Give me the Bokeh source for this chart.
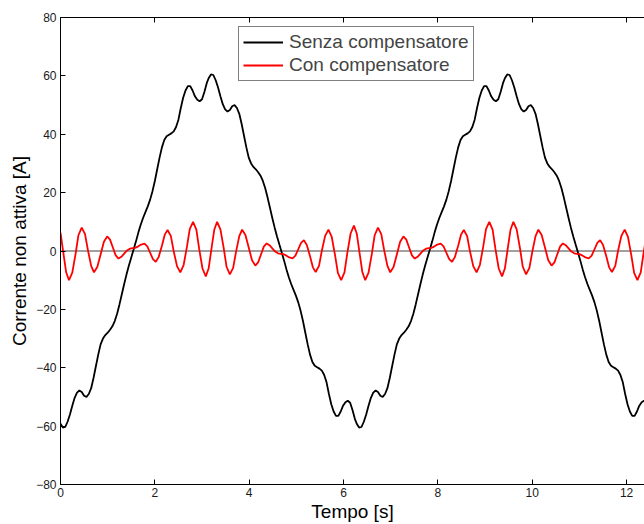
from bokeh.plotting import figure
from bokeh.models import Range1d, FixedTicker, LinearAxis, Span, CustomLabelingPolicy
from bokeh.embed import file_html
from bokeh.resources import INLINE

# ---- data ----
x_ticks = [0, 2, 4, 6, 8, 10, 12]
y_ticks = [-80, -60, -40, -20, 0, 20, 40, 60, 80]
series_names = ["Senza compensatore", "Con compensatore"]

# "Senza compensatore" (black)
black_t = [
    0.00, 0.05, 0.10, 0.15, 0.20, 0.25, 0.30, 0.35, 0.40, 0.45, 0.50, 0.55, 0.60, 0.65, 0.70, 0.75,
    0.80, 0.85, 0.90, 0.95, 1.00, 1.05, 1.10, 1.15, 1.20, 1.25, 1.30, 1.35, 1.40, 1.45, 1.50, 1.55,
    1.60, 1.65, 1.70, 1.75, 1.80, 1.85, 1.90, 1.95, 2.00, 2.05, 2.10, 2.15, 2.20, 2.25, 2.30, 2.35,
    2.40, 2.45, 2.50, 2.55, 2.60, 2.65, 2.70, 2.75, 2.80, 2.85, 2.90, 2.95, 3.00, 3.05, 3.10,
    3.14, 3.19, 3.24, 3.29, 3.34, 3.39, 3.44, 3.49, 3.54, 3.59, 3.64, 3.69, 3.74, 3.79, 3.84, 3.89,
    3.94, 3.99, 4.04, 4.09, 4.14, 4.19, 4.24, 4.29, 4.34, 4.39, 4.44, 4.49, 4.54, 4.59, 4.64, 4.69,
    4.74, 4.79, 4.84, 4.89, 4.94, 4.99, 5.04, 5.09, 5.14, 5.19, 5.24, 5.29, 5.34, 5.39, 5.44, 5.49,
    5.54, 5.59, 5.64, 5.69, 5.74, 5.79, 5.84, 5.89, 5.94, 5.99, 6.04, 6.09, 6.14, 6.19, 6.24,
    6.28, 6.33, 6.38, 6.43, 6.48, 6.53, 6.58, 6.63, 6.68, 6.73, 6.78, 6.83, 6.88, 6.93, 6.98, 7.03,
    7.08, 7.13, 7.18, 7.23, 7.28, 7.33, 7.38, 7.43, 7.48, 7.53, 7.58, 7.63, 7.68, 7.73, 7.78, 7.83,
    7.88, 7.93, 7.98, 8.03, 8.08, 8.13, 8.18, 8.23, 8.28, 8.33, 8.38, 8.43, 8.48, 8.53, 8.58, 8.63,
    8.68, 8.73, 8.78, 8.83, 8.88, 8.93, 8.98, 9.03, 9.08, 9.13, 9.18, 9.23, 9.28, 9.33, 9.38,
    9.42, 9.47, 9.52, 9.57, 9.62, 9.67, 9.72, 9.77, 9.82, 9.87, 9.92, 9.97, 10.02, 10.07, 10.12, 10.17,
    10.22, 10.27, 10.32, 10.37, 10.42, 10.47, 10.52, 10.57, 10.62, 10.67, 10.72, 10.77, 10.82, 10.87,
    10.92, 10.97, 11.02, 11.07, 11.12, 11.17, 11.22, 11.27, 11.32, 11.37, 11.42, 11.47, 11.52, 11.57,
    11.62, 11.67, 11.72, 11.77, 11.82, 11.87, 11.92, 11.97, 12.02, 12.07, 12.12, 12.17, 12.22, 12.27,
    12.32, 12.37, 12.42, 12.47, 12.52,
]
black_v = [
    -59.2, -60.5, -60.3, -58.5, -56.0, -53.0, -50.3, -48.5, -47.8, -48.3, -49.6, -50.0, -49.0, -47.0, -43.5, -39.5,
    -35.5, -32.0, -30.0, -28.8, -28.0, -27.0, -25.8, -24.0, -21.5, -18.3, -14.8, -11.3, -8.0, -5.0, -2.2, 0.5,
    3.3, 6.3, 9.0, 11.3, 13.3, 15.3, 17.6, 20.5, 24.0, 28.0, 32.0, 35.5, 38.0, 39.3, 39.8, 40.3,
    41.0, 42.5, 45.0, 49.0, 52.5, 55.0, 56.5, 56.5, 55.0, 53.0, 51.8, 51.3, 52.0, 54.5, 57.5,
    59.2, 60.5, 60.3, 58.5, 56.0, 53.0, 50.3, 48.5, 47.8, 48.3, 49.6, 50.0, 49.0, 47.0, 43.5, 39.5,
    35.5, 32.0, 30.0, 28.8, 28.0, 27.0, 25.8, 24.0, 21.5, 18.3, 14.8, 11.3, 8.0, 5.0, 2.2, -0.5,
    -3.3, -6.3, -9.0, -11.3, -13.3, -15.3, -17.6, -20.5, -24.0, -28.0, -32.0, -35.5, -38.0, -39.3, -39.8, -40.3,
    -41.0, -42.5, -45.0, -49.0, -52.5, -55.0, -56.5, -56.5, -55.0, -53.0, -51.8, -51.3, -52.0, -54.5, -57.5,
    -59.2, -60.5, -60.3, -58.5, -56.0, -53.0, -50.3, -48.5, -47.8, -48.3, -49.6, -50.0, -49.0, -47.0, -43.5, -39.5,
    -35.5, -32.0, -30.0, -28.8, -28.0, -27.0, -25.8, -24.0, -21.5, -18.3, -14.8, -11.3, -8.0, -5.0, -2.2, 0.5,
    3.3, 6.3, 9.0, 11.3, 13.3, 15.3, 17.6, 20.5, 24.0, 28.0, 32.0, 35.5, 38.0, 39.3, 39.8, 40.3,
    41.0, 42.5, 45.0, 49.0, 52.5, 55.0, 56.5, 56.5, 55.0, 53.0, 51.8, 51.3, 52.0, 54.5, 57.5,
    59.2, 60.5, 60.3, 58.5, 56.0, 53.0, 50.3, 48.5, 47.8, 48.3, 49.6, 50.0, 49.0, 47.0, 43.5, 39.5,
    35.5, 32.0, 30.0, 28.8, 28.0, 27.0, 25.8, 24.0, 21.5, 18.3, 14.8, 11.3, 8.0, 5.0,
    2.2, -0.5, -3.3, -6.3, -9.0, -11.3, -13.3, -15.3, -17.6, -20.5, -24.0, -28.0, -32.0, -35.5,
    -38.0, -39.3, -39.8, -40.3, -41.0, -42.5, -45.0, -49.0, -52.5, -55.0, -56.5, -56.5, -55.0, -53.0,
    -51.8, -51.3, -52.0, -54.5, -57.5,
]

# "Con compensatore" (red)
red_t = [
    0.00, 0.06, 0.12,
    0.18, 0.25, 0.32, 0.38, 0.45, 0.52, 0.58, 0.65, 0.71, 0.78, 0.85, 0.92, 0.99, 1.05, 1.11, 1.17,
    1.23, 1.29, 1.35, 1.41, 1.47, 1.53, 1.59, 1.65, 1.71,
    1.78, 1.84, 1.90, 1.96, 2.02, 2.08, 2.15, 2.21, 2.27, 2.34, 2.40, 2.47, 2.54, 2.61, 2.68, 2.74,
    2.81, 2.88, 2.94, 3.01,
    3.08, 3.14, 3.20, 3.26, 3.32, 3.39, 3.46, 3.52, 3.59, 3.66, 3.72, 3.79, 3.85, 3.92, 3.99, 4.06,
    4.13, 4.19, 4.25, 4.31,
    4.37, 4.43, 4.49, 4.55, 4.61, 4.67, 4.73, 4.79, 4.85,
    4.92, 4.98, 5.04, 5.10, 5.16, 5.22, 5.29, 5.35, 5.41, 5.48, 5.54, 5.61, 5.68, 5.75, 5.82, 5.88,
    5.95, 6.02, 6.08, 6.15,
    6.22, 6.28, 6.34, 6.40, 6.46, 6.53, 6.60, 6.66, 6.73, 6.80, 6.86, 6.93, 6.99, 7.06, 7.13, 7.20,
    7.27, 7.33, 7.39, 7.45,
    7.51, 7.57, 7.63, 7.69, 7.75, 7.81, 7.87, 7.93, 7.99,
    8.06, 8.12, 8.18, 8.24, 8.30, 8.36, 8.43, 8.49, 8.55, 8.62, 8.68, 8.75, 8.82, 8.89, 8.96, 9.02,
    9.09, 9.16, 9.22, 9.29,
    9.36, 9.42, 9.48, 9.54, 9.60, 9.67, 9.74, 9.80, 9.87, 9.94, 10.00, 10.07, 10.13, 10.20, 10.27, 10.34,
    10.41, 10.47, 10.53, 10.59,
    10.65, 10.71, 10.77, 10.83, 10.89, 10.95, 11.01, 11.07, 11.13,
    11.20, 11.26, 11.32, 11.38, 11.44, 11.50, 11.57, 11.63, 11.69, 11.76, 11.82, 11.89, 11.96, 12.03, 12.10, 12.16,
    12.23, 12.30, 12.36, 12.43, 12.50,
]
red_v = [
    6.3, -0.6, -7.3,
    -10.0, -7.4, -1.0, 5.4, 8.0, 5.8, 0.4, -5.1, -7.3, -5.5, -1.2, 3.2, 5.0, 3.9, 1.2, -1.5,
    -2.6, -2.0, -0.9, 0.2, 0.8, 0.95, 1.1, 1.6, 2.2,
    2.5, 1.6, -0.6, -2.8, -3.7, -2.1, 1.8, 5.6, 7.2, 5.1, -0.1, -5.2, -7.3, -4.8, 1.4, 7.5,
    10.0, 7.3, 0.7, -6.0,
    -8.7, -6.0, 0.7, 7.3, 10.0, 7.4, 1.0, -5.4, -8.0, -5.8, -0.4, 5.1, 7.3, 5.5, 1.2, -3.2,
    -5.0, -3.9, -1.2, 1.5,
    2.6, 2.0, 0.9, -0.2, -0.8, -0.95, -1.1, -1.6, -2.2,
    -2.5, -1.6, 0.6, 2.8, 3.7, 2.1, -1.8, -5.6, -7.2, -5.1, 0.1, 5.2, 7.3, 4.8, -1.4, -7.5,
    -10.0, -7.3, -0.7, 6.0,
    8.7, 6.0, -0.7, -7.3, -10.0, -7.4, -1.0, 5.4, 8.0, 5.8, 0.4, -5.1, -7.3, -5.5, -1.2, 3.2,
    5.0, 3.9, 1.2, -1.5,
    -2.6, -2.0, -0.9, 0.2, 0.8, 0.95, 1.1, 1.6, 2.2,
    2.5, 1.6, -0.6, -2.8, -3.7, -2.1, 1.8, 5.6, 7.2, 5.1, -0.1, -5.2, -7.3, -4.8, 1.4, 7.5,
    10.0, 7.3, 0.7, -6.0,
    -8.7, -6.0, 0.7, 7.3, 10.0, 7.4, 1.0, -5.4, -8.0, -5.8, -0.4, 5.1, 7.3, 5.5, 1.2, -3.2,
    -5.0, -3.9, -1.2, 1.5,
    2.6, 2.0, 0.9, -0.2, -0.8, -0.95, -1.1, -1.6, -2.2,
    -2.5, -1.6, 0.6, 2.8, 3.7, 2.1, -1.8, -5.6, -7.2, -5.1, 0.1, 5.2, 7.3, 4.8, -1.4, -7.5,
    -10.0, -7.3, -0.7, 6.0, 8.7,
]

FONT = "Liberation Sans"

p = figure(width=644, height=524, output_backend="svg", toolbar_location=None,
           x_range=Range1d(0, 12.38), y_range=Range1d(-80, 80),
           min_border_left=60, min_border_right=0, min_border_top=17, min_border_bottom=40)
p.outline_line_color = None
p.xgrid.visible = False
p.ygrid.visible = False
p.background_fill_color = "white"
p.border_fill_color = "white"

for ax, ticks in ((p.xaxis[0], x_ticks), (p.yaxis[0], y_ticks)):
    ax.ticker = FixedTicker(ticks=ticks)
    ax.axis_line_color = "black"
    ax.axis_line_width = 1
    ax.major_tick_in = 5
    ax.major_tick_out = 0
    ax.major_tick_line_color = "black"
    ax.minor_tick_line_color = None
    ax.major_label_text_font = FONT
    ax.major_label_text_font_size = "12px"
    ax.major_label_text_color = "#1a1a1a"
    ax.major_label_standoff = 4
    ax.axis_label_text_font = FONT
    ax.axis_label_text_font_size = "19px"
    ax.axis_label_text_font_style = "normal"
    ax.axis_label_text_color = "black"

p.xaxis.axis_label = "Tempo [s]"
p.xaxis.major_label_standoff = 3
p.xaxis.axis_label_standoff = 1
p.yaxis.axis_label = "Corrente non attiva [A]"
p.yaxis.axis_label_standoff = 3

# top frame line with inward ticks, no labels
top = LinearAxis(ticker=FixedTicker(ticks=x_ticks),
                 major_label_policy=CustomLabelingPolicy(code="for (const i of indices) { if (i < 0) yield i }"),
                 major_tick_in=5, major_tick_out=0, minor_tick_line_color=None,
                 major_label_standoff=0, axis_line_color="black")
p.add_layout(top, "above")

p.add_layout(Span(location=0, dimension="width", line_color="#808080", line_width=1.5, level="underlay"))

p.line(black_t, black_v, line_color="black", line_width=1.8, legend_label=series_names[0])
p.line(red_t, red_v, line_color="red", line_width=1.8, legend_label=series_names[1])

lg = p.legend[0]
lg.location = (178, 403)
lg.border_line_color = "black"
lg.border_line_width = 1
lg.background_fill_color = "white"
lg.background_fill_alpha = 1
lg.label_text_font = FONT
lg.label_text_font_size = "19px"
lg.glyph_width = 40
lg.glyph_height = 18
lg.label_height = 18
lg.spacing = 1
lg.padding = 4
lg.margin = 0
lg.label_standoff = 6

open("out.html", "w").write(file_html(p, INLINE))
